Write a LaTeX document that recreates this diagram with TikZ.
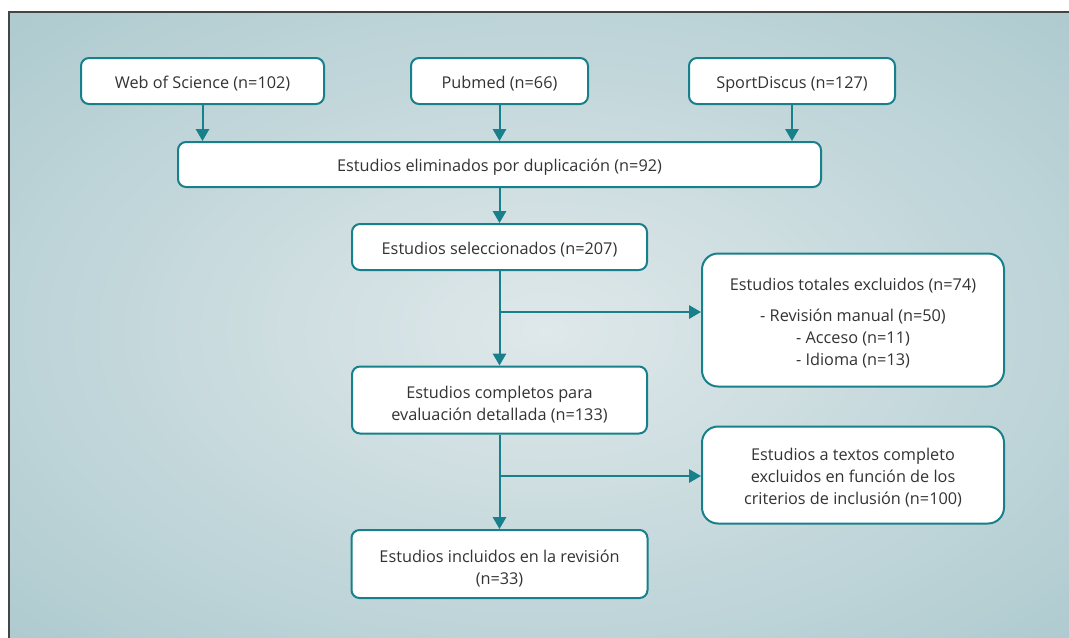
\documentclass[tikz,border=0pt]{standalone}
\usepackage{fontspec}
\setmainfont{Open Sans}
\usepackage{tikz}
\usetikzlibrary{arrows.meta,calc}
\definecolor{tealline}{HTML}{17808A}
\definecolor{textgray}{HTML}{333333}
\definecolor{bglight}{HTML}{DFE8EA}
\definecolor{bgdark}{HTML}{99BEC4}
\definecolor{framegray}{HTML}{454545}
\pgfdeclareradialshading{bgglow}{\pgfpoint{0bp}{0bp}}{color(0bp)=(bglight); color(50bp)=(bgdark)}
\def\lowstrut{\rule{0pt}{16.5pt}}
\def\midstrut{\rule{0pt}{13.5pt}}
\tikzset{
	box/.style={draw=tealline, line width=1.5pt, fill=white, rounded corners=6pt,
		inner sep=0pt, align=center, text=textgray, font=\fontsize{12.2}{16.5}\selectfont,
		execute at begin node={\rule{0pt}{13.5pt}}},
	bigbox/.style={box, rounded corners=12pt},
	flow/.style={draw=tealline, line width=1.5pt, -{Triangle[length=9pt, width=10pt]}}
}

\begin{document}
\begin{tikzpicture}[x=0.75pt, y=-0.75pt]
		%%%%% START %%%%%
		
		\useasboundingbox (0, 0) rectangle (1069, 637);
		\clip (0, 0) rectangle (1069, 637);
		\fill[white] (0, 0) rectangle (1069, 637);
		\shade[shading=bgglow] (9, 12) rectangle (1080, 650);
		\draw[line width=1.2pt, color=framegray] (9, 650) -- (9, 12) -- (1080, 12);
		
		\node[box, minimum width=182.25pt, minimum height=34.5pt] (wos) at (202.5, 81) {Web of Science (n=102)};
		\node[box, minimum width=132.75pt, minimum height=34.5pt] (pubmed) at (499.5, 81) {Pubmed (n=66)};
		\node[box, minimum width=154.5pt, minimum height=34.5pt] (sport) at (792, 81) {SportDiscus (n=127)};
		
		\node[box, minimum width=482.25pt, minimum height=33.75pt] (dup) at (499.5, 164.5) {Estudios eliminados por duplicación (n=92)};
		\node[box, minimum width=221.25pt, minimum height=34.5pt] (sel) at (499.5, 247) {Estudios seleccionados (n=207)};
		\node[box, minimum width=221.25pt, minimum height=50.25pt] (comp) at (499.5, 400) {\lowstrut Estudios completos para\\evaluación detallada (n=133)};
		\node[box, minimum width=222pt, minimum height=51pt] (incl) at (499.5, 564) {\lowstrut Estudios incluidos en la revisión\\(n=33)};
		
		\node[bigbox, minimum width=226.5pt, minimum height=99.75pt] (excl) at (853, 320) {\midstrut Estudios totales excluidos (n=74)\\[7pt]- Revisión manual (n=50)\\- Acceso (n=11)\\- Idioma (n=13)};
		\node[bigbox, minimum width=226.5pt, minimum height=72.75pt] (exclfull) at (853, 475) {\midstrut Estudios a textos completo\\excluidos en función de los\\criterios de inclusión (n=100)};
		
		\draw[flow] (wos.south) -- (wos.south |- dup.north);
		\draw[flow] (pubmed.south) -- (pubmed.south |- dup.north);
		\draw[flow] (sport.south) -- (sport.south |- dup.north);
		\draw[flow] (dup.south) -- (sel.north);
		
		\coordinate (split1) at (499.5, 312);
		\draw[flow] (sel.south) -- (comp.north);
		\draw[flow] (split1) -- (split1 -| excl.west);
		
		\coordinate (split2) at (499.5, 476);
		\draw[flow] (comp.south) -- (incl.north);
		\draw[flow] (split2) -- (split2 -| exclfull.west);
		
		%%%%% END %%%%%
	\end{tikzpicture}
\end{document}
